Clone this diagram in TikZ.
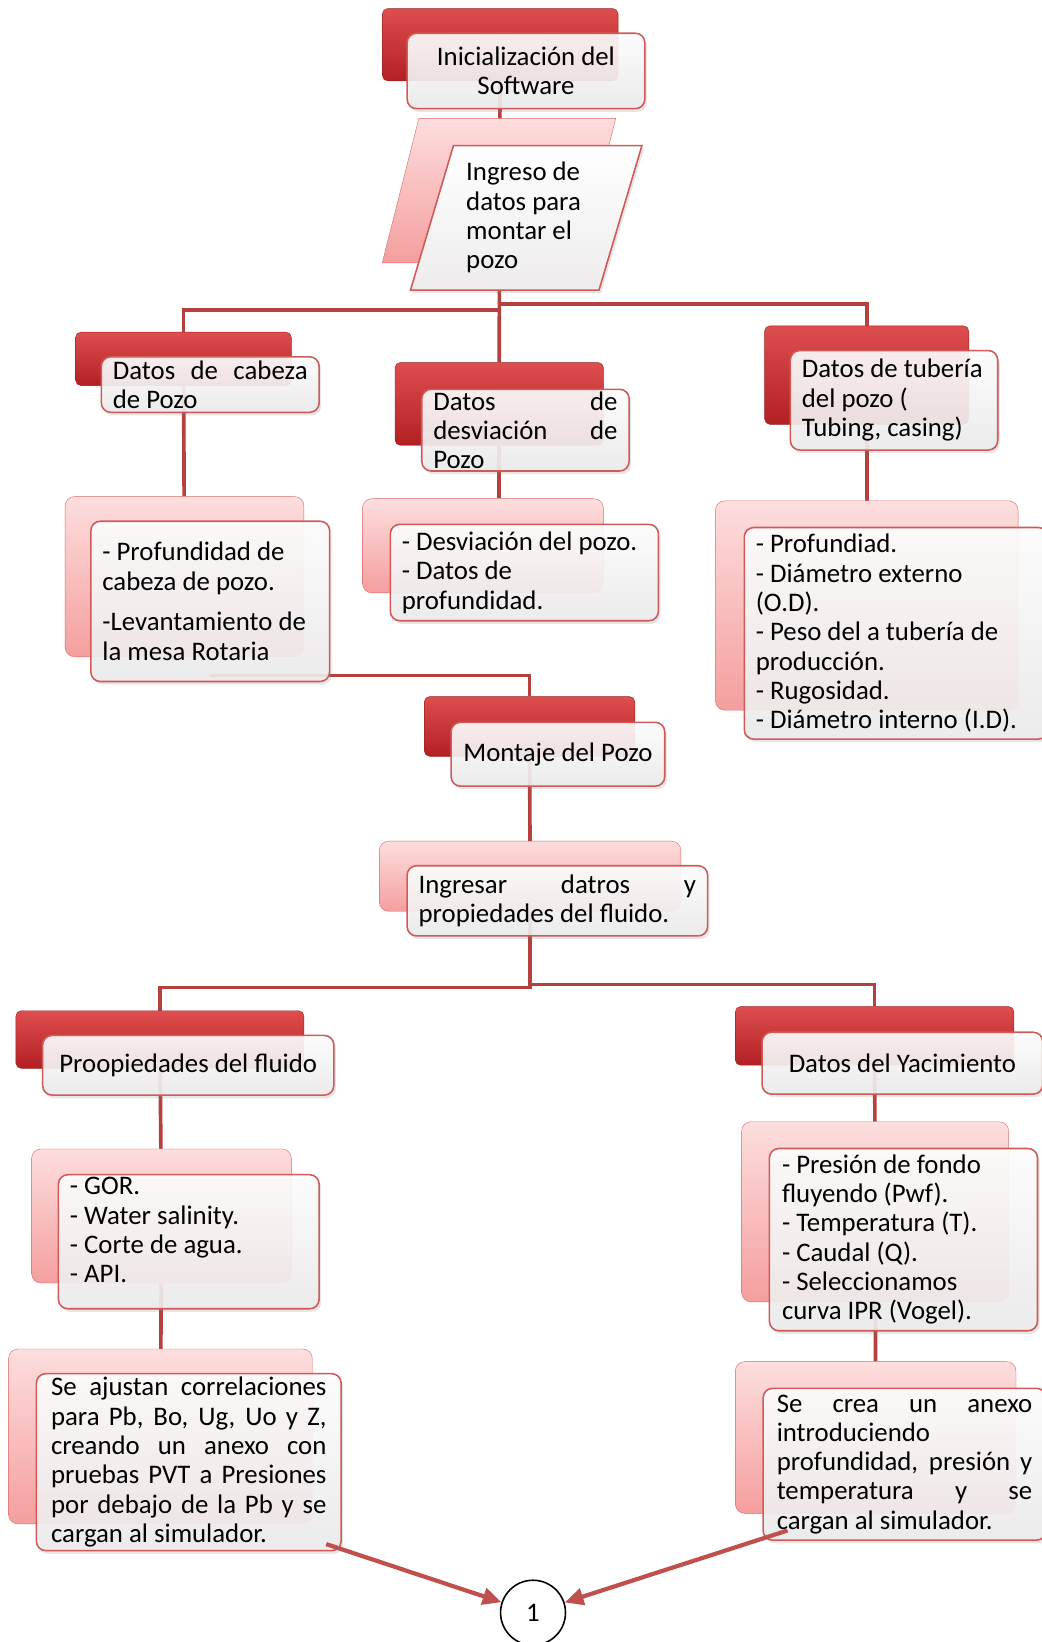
\documentclass[tikz,border=0pt]{standalone}
\usepackage{fontspec}
\setmainfont{Carlito}
\usetikzlibrary{arrows.meta,shadows,backgrounds}
\definecolor{accent}{RGB}{192,80,77}
\definecolor{linkred}{RGB}{181,65,62}
\definecolor{dktop}{RGB}{222,78,78}
\definecolor{dkbot}{RGB}{178,32,35}
\definecolor{dkedge}{RGB}{155,35,35}
\definecolor{pktop}{RGB}{253,222,222}
\definecolor{pkbot}{RGB}{245,158,158}
\definecolor{pkedge}{RGB}{220,105,105}
\definecolor{frbot}{RGB}{238,236,236}
\definecolor{fredge}{RGB}{208,90,90}
\newcommand{\jline}[2]{\makebox[#1][s]{#2}}
\tikzset{
  every node/.style={font=\fontsize{25.6}{28}\selectfont, execute at begin node={\spaceskip=0pt\xspaceskip=0pt}},
  darkback/.style={anchor=north west, rounded corners=5pt, draw=dkedge, top color=dktop, bottom color=dkbot, inner sep=0pt},
  pinkback/.style={anchor=north west, rounded corners=9pt, draw=pkedge, top color=pktop, bottom color=pkbot, inner sep=0pt},
  frontbox/.style={anchor=north west, rounded corners=9pt, draw=fredge, line width=1.5pt, top color=white, bottom color=frbot,
    fill opacity=0.9, text opacity=1, drop shadow={opacity=0.2,shadow xshift=2pt,shadow yshift=-3pt},
    inner xsep=11pt, inner ysep=0pt, align=flush left},
  link/.style={draw=linkred, line width=3.5pt},
  flowarrow/.style={draw=accent, line width=4pt, -{Triangle[length=18pt,width=16pt]}}
}
\begin{document}
\begin{tikzpicture}[x=1pt,y=-1pt]
\useasboundingbox (0,0) rectangle (995,1568);
% top
\node[darkback, minimum width=225pt, minimum height=69pt] (iniB) at (365,8) {};
\node[frontbox, minimum width=227pt, minimum height=72pt, text width=205pt, align=flush center] (ini) at (388,31) {Inicialización del\\Software};
\shadedraw[top color=pktop, bottom color=pkbot, draw=pkedge] (400,113) -- (588,113) -- (553,251) -- (365,251) -- cycle;
\coordinate (ingB) at (477,182);
\shadedraw[top color=white, bottom color=frbot, draw=fredge, line width=1.5pt, drop shadow={opacity=0.2,shadow xshift=2pt,shadow yshift=-3pt}]
  (433,139) -- (613,139) -- (572,277) -- (392,277) -- cycle;
\node[anchor=west, align=flush left, inner sep=0pt] (ing) at (445,208) {Ingreso de\\datos para\\montar el\\pozo};
% level 2
\node[darkback, minimum width=206pt, minimum height=51pt] (cabB) at (72,317) {};
\node[frontbox, minimum width=208pt, minimum height=53pt, text width=186pt] (cab) at (96,340) {\jline{186pt}{Datos de cabeza}\\de Pozo};
\node[darkback, minimum width=199pt, minimum height=79pt] (desB) at (377,346) {};
\node[frontbox, minimum width=198pt, minimum height=78pt, text width=176pt] (des) at (402,371) {\jline{176pt}{Datos de}\\\jline{176pt}{desviación de}\\Pozo};
\node[darkback, minimum width=195pt, minimum height=94pt] (tubB) at (730,311) {};
\node[frontbox, minimum width=198pt, minimum height=95pt, text width=176pt] (tub) at (754,334) {Datos de tubería\\del pozo (\\Tubing, casing)};
\node[pinkback, minimum width=228pt, minimum height=153pt] (profB) at (62,474) {};
\node[frontbox, minimum width=228pt, minimum height=153pt, text width=206pt] (prof) at (86,497) {- Profundidad de\\cabeza de pozo.\\[11pt]-Levantamiento de\\la mesa Rotaria};
\node[pinkback, minimum width=230pt, minimum height=90pt] (desvB) at (346,476) {};
\node[frontbox, minimum width=256pt, minimum height=92pt, text width=234pt] (desv) at (372,500) {- Desviación del pozo.\\- Datos de\\profundidad.};
\node[pinkback, minimum width=289pt, minimum height=200pt] (tubLB) at (683,478) {};
\node[frontbox, minimum width=290pt, minimum height=202pt, text width=268pt] (tubL) at (710,503) {- Profundiad.\\- Diámetro externo\\(O.D).\\- Peso del a tubería de\\producción.\\- Rugosidad.\\- Diámetro interno (I.D).};
% middle
\node[darkback, minimum width=201pt, minimum height=57pt] (monB) at (405,665) {};
\node[frontbox, minimum width=204pt, minimum height=61pt, text width=182pt, align=flush center] (mon) at (430,689) {Montaje del Pozo};
\node[pinkback, minimum width=288pt, minimum height=67pt] (ingrB) at (362,803) {};
\node[frontbox, minimum width=287pt, minimum height=67pt, text width=265pt] (ingr) at (388,826) {\jline{265pt}{Ingresar datros y}\\propiedades del fluido.};
% lower left
\node[darkback, minimum width=275pt, minimum height=55pt] (fluB) at (15,965) {};
\node[frontbox, minimum width=278pt, minimum height=57pt, text width=256pt, align=flush center] (flu) at (40,988) {Proopiedades del fluido};
\node[pinkback, minimum width=248pt, minimum height=128pt] (gorB) at (30,1097) {};
\node[frontbox, minimum width=249pt, minimum height=128pt, text width=227pt] (gor) at (55,1121) {- GOR.\\- Water salinity.\\- Corte de agua.\\- API.\\[-6pt]\mbox{}};
\node[pinkback, minimum width=290pt, minimum height=167pt] (ajuB) at (8,1288) {};
\node[frontbox, minimum width=291pt, minimum height=169pt, text width=263pt, inner xsep=14pt] (aju) at (34,1311) {\jline{263pt}{Se ajustan correlaciones}\\\jline{263pt}{para Pb, Bo, Ug, Uo y Z,}\\\jline{263pt}{creando un anexo con}\\\jline{263pt}{pruebas PVT a Presiones}\\\jline{263pt}{por debajo de la Pb y se}\\cargan al simulador.};
% lower right
\node[darkback, minimum width=266pt, minimum height=56pt] (yacB) at (702,961) {};
\node[frontbox, minimum width=268pt, minimum height=59pt, text width=246pt, align=flush center] (yac) at (727,985) {Datos del Yacimiento};
\node[pinkback, minimum width=255pt, minimum height=172pt] (preB) at (708,1071) {};
\node[frontbox, minimum width=256pt, minimum height=174pt, text width=232pt, inner xsep=12pt] (pre) at (734,1096) {- Presión de fondo\\fluyendo (Pwf).\\- Temperatura (T).\\- Caudal (Q).\\- Seleccionamos\\curva IPR (Vogel).};
\node[pinkback, minimum width=268pt, minimum height=145pt] (creB) at (702,1300) {};
\node[frontbox, minimum width=270pt, minimum height=145pt, text width=244pt, inner xsep=13pt] (cre) at (728,1325) {\jline{244pt}{Se crea un anexo}\\introduciendo\\\jline{244pt}{profundidad, presión y}\\\jline{244pt}{temperatura y se}\\cargan al simulador.};
% end
\node[draw, circle, line width=1.5pt, minimum size=62pt, inner sep=0pt] (one) at (509,1540) {1};
\coordinate (ajuOut) at ([shift={(-15,-7)}]aju.south east);
\coordinate (creOut) at ([shift={(24,-10)}]cre.south west);
\draw[flowarrow] (ajuOut) -- (one);
\draw[flowarrow] (creOut) -- (one);
\begin{scope}[on background layer]
\draw[link] (iniB) -- (ingB);
\draw[link] (ingB) -- (477,296) -| (cabB);
\draw[link] (ingB) -- (desB);
\draw[link] (477,290) -| (tubB);
\draw[link] (cabB) -- (profB);
\draw[link] (desB) -- (desB |- desvB.north);
\draw[link] (tubB) -- (tubLB);
\draw[link] (prof.center |- 0,645) -| (monB);
\draw[link] (monB) -- (ingrB);
\draw[link] (ingrB) -- (ingrB |- 0,943) -| (fluB);
\draw[link] (ingrB |- 0,940) -| (yacB);
\draw[link] (fluB) -- (gorB);
\draw[link] (gorB) -- (ajuB);
\draw[link] (yacB) -- (preB);
\draw[link] (preB) -- (creB);
\end{scope}
\end{tikzpicture}
\end{document}
